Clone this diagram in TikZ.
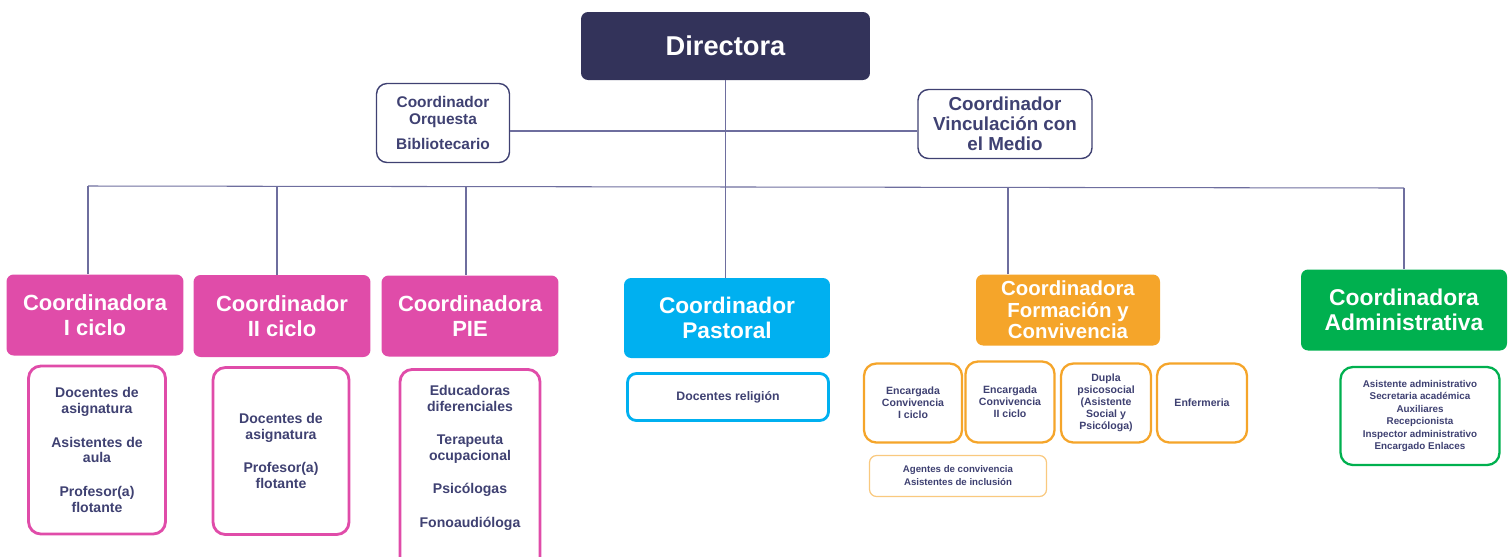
\documentclass[tikz,border=0pt]{standalone}
\usepackage{fontspec}
\setmainfont{Liberation Sans}
\usetikzlibrary{positioning}
\definecolor{navy}{HTML}{33335A}
\definecolor{inktext}{HTML}{3F4172}
\definecolor{wirecol}{HTML}{6E6E9E}
\definecolor{pinkc}{HTML}{E04CA9}
\definecolor{bluec}{HTML}{00B0F0}
\definecolor{orangec}{HTML}{F5A52A}
\definecolor{greenc}{HTML}{00B04F}

\begin{document}
\begin{tikzpicture}[x=0.02cm,y=-0.02cm,
    wire/.style={draw=wirecol,line width=0.6pt},
    headbox/.style={rounded corners=4pt,text=white,align=center,inner sep=0pt,
        font=\bfseries\fontsize{12.5}{14}\selectfont},
    listbox/.style={rounded corners=7pt,fill=white,text=inktext,align=center,inner sep=0pt,
        line width=1.6pt,font=\bfseries\fontsize{8}{9}\selectfont},
    listtext/.style={text=inktext,align=center,inner sep=0pt,
        font=\bfseries\fontsize{8}{9}\selectfont},
    smallbox/.style={listbox,draw=orangec,line width=1.3pt,
        font=\bfseries\fontsize{6}{6.9}\selectfont},
    topbox/.style={rounded corners=6pt,draw=inktext,line width=0.8pt,text=inktext,
        align=center,inner sep=0pt}]
\useasboundingbox (0,0) rectangle (1510,556);

\node[headbox,fill=navy,minimum width=5.78cm,minimum height=1.36cm,
    font=\bfseries\fontsize{15.5}{17}\selectfont] (dir) at (725.5,46) {Directora};

\node[topbox,minimum width=2.66cm,minimum height=1.58cm,
    font=\bfseries\fontsize{8.8}{9.6}\selectfont] (orq) at (443,123)
    {Coordinador\\Orquesta\\[5pt]Bibliotecario};
\node[topbox,minimum width=3.48cm,minimum height=1.38cm,
    font=\bfseries\fontsize{10.7}{11.3}\selectfont] (vin) at (1005,124)
    {Coordinador\\Vinculación con\\el Medio};

\node[headbox,fill=pinkc,minimum width=3.54cm,minimum height=1.62cm] (c1) at (95,315)
    {Coordinadora\\I ciclo};
\node[headbox,fill=pinkc,minimum width=3.54cm,minimum height=1.64cm] (c2) at (282,316)
    {Coordinador\\II ciclo};
\node[headbox,fill=pinkc,minimum width=3.54cm,minimum height=1.62cm] (pie) at (470,316)
    {Coordinadora\\PIE};
\node[headbox,fill=bluec,minimum width=4.12cm,minimum height=1.6cm,
    font=\bfseries\fontsize{12.9}{14}\selectfont] (past) at (727,318)
    {Coordinador\\Pastoral};
\node[headbox,fill=orangec,minimum width=3.68cm,minimum height=1.42cm,
    font=\bfseries\fontsize{11.6}{12.2}\selectfont] (form) at (1068,310)
    {Coordinadora\\Formación y\\Convivencia};
\node[headbox,fill=greenc,minimum width=4.12cm,minimum height=1.62cm,
    font=\bfseries\fontsize{13}{14}\selectfont] (adm) at (1404,310)
    {Coordinadora\\Administrativa};

\node[listbox,draw=pinkc,minimum width=2.74cm,minimum height=3.36cm] (l1) at (97,450)
    {Docentes de\\asignatura\\[10pt]Asistentes de\\aula\\[10pt]Profesor(a)\\flotante};
\node[listbox,draw=pinkc,minimum width=2.72cm,minimum height=3.34cm] (l2) at (281,451)
    {Docentes de\\asignatura\\[10pt]Profesor(a)\\flotante};
\node[listbox,draw=pinkc,minimum width=2.8cm,minimum height=4.1cm,anchor=north] (l3)
    at (470,368) {};
\node[listtext,below=9.5pt of l3.north] (l3txt)
    {Educadoras\\diferenciales\\[10pt]Terapeuta\\ocupacional\\[10pt]Psicólogas\\[10pt]Fonoaudióloga};

\node[listbox,draw=bluec,minimum width=4.02cm,minimum height=0.94cm,rounded corners=5pt,
    font=\bfseries\fontsize{7}{8}\selectfont] (rel) at (728,397) {Docentes religión};

\node[smallbox,minimum width=1.96cm,minimum height=1.58cm] (e1) at (913,403)
    {Encargada\\Convivencia\\I ciclo};
\node[smallbox,minimum width=1.78cm,minimum height=1.62cm] (e2) at (1010,402)
    {Encargada\\Convivencia\\II ciclo};
\node[smallbox,minimum width=1.8cm,minimum height=1.58cm] (dupla) at (1106,403)
    {Dupla\\psicosocial\\(Asistente\\Social y\\Psicóloga)};
\node[smallbox,minimum width=1.8cm,minimum height=1.58cm] (enf) at (1202,403) {Enfermeria};
\node[smallbox,draw=orangec!60,line width=0.7pt,rounded corners=4pt,
    minimum width=3.54cm,minimum height=0.82cm,
    font=\bfseries\fontsize{5.5}{7.4}\selectfont] (ag) at (958,476)
    {Agentes de convivencia\\Asistentes de inclusión};

\node[listbox,draw=greenc,line width=1.3pt,minimum width=3.18cm,minimum height=1.96cm,
    font=\bfseries\fontsize{5.6}{7.1}\selectfont] (adml) at (1420,416)
    {Asistente administrativo\\Secretaria académica\\Auxiliares\\Recepcionista\\
     Inspector administrativo\\Encargado Enlaces};

\coordinate (mid) at (726,131);
\coordinate (b1) at (88,186);
\coordinate (b2) at (277,186);
\coordinate (b3) at (466,186);
\coordinate (b5) at (1008,187);
\coordinate (b6) at (1404,188);

\draw[wire] (dir.south) -- (dir.south |- past.north);
\draw[wire] (orq.east |- mid) -- (vin.west |- mid);
\draw[wire] (b1) -- (b6);
\foreach \b/\n in {b1/c1,b2/c2,b3/pie,b5/form,b6/adm}
    \draw[wire] (\b) -- (\b |- \n.north);

\end{tikzpicture}
\end{document}
